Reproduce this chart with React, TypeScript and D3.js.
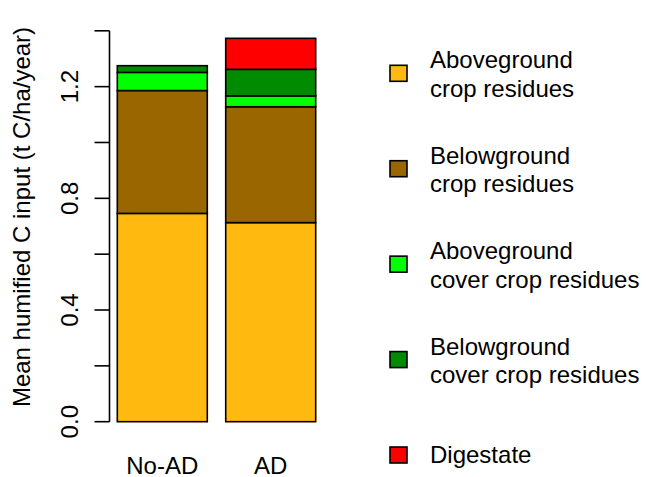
import React from "react";
import * as d3 from "d3";

const categories = ["No-AD", "AD"];
const seriesNames = [
  "Aboveground\ncrop residues",
  "Belowground\ncrop residues",
  "Aboveground\ncover crop residues",
  "Belowground\ncover crop residues",
  "Digestate",
];
const seriesKeys = ["aboveCrop", "belowCrop", "aboveCover", "belowCover", "digestate"];
const aboveCrop = [0.746, 0.713];
const belowCrop = [0.44, 0.415];
const aboveCover = [0.065, 0.039];
const belowCover = [0.024, 0.095];
const digestate = [0, 0.111];
const colors = ["#FFB90F", "#996600", "#00FF00", "#008B00", "#FF0000"];
const yTicks = [0, 0.2, 0.4, 0.6, 0.8, 1.0, 1.2, 1.4];
const yLabels = [0, 0.4, 0.8, 1.2];
const yTitle = "Mean humified C input (t C/ha/year)";

const W = 646;
const H = 477;
const FONT = "Liberation Sans, Arial, sans-serif";

export default function App() {
  const valuesBySeries = [aboveCrop, belowCrop, aboveCover, belowCover, digestate];
  const rows = categories.map((c, i) => {
    const r: any = { cat: c };
    seriesKeys.forEach((k, j) => (r[k] = valuesBySeries[j][i]));
    return r;
  });
  const stacked = d3.stack().keys(seriesKeys)(rows);

  const y = d3.scaleLinear().domain([0, 1.4]).range([421.7, 30.8]);
  const x = d3.scaleBand().domain(categories).range([117.3, 315.7]).paddingInner(0.17).paddingOuter(0);
  const axisX = 109.5;
  const tickLen = 15;

  const legendCenters = d3.scaleLinear().domain([0, 4]).range([73.3, 455]);

  return (
    <svg width={W} height={H} style={{ position: "absolute", left: 0, top: 0, background: "#fff" }} fontFamily={FONT}>
      <rect x={0} y={0} width={W} height={H} fill="#fff" />
      {stacked.map((s, si) =>
        s.map((d, di) => {
          const h = y(d[0]) - y(d[1]);
          if (h <= 0) return null;
          return (
            <rect
              key={`${si}-${di}`}
              x={x(categories[di])}
              y={y(d[1])}
              width={x.bandwidth()}
              height={h}
              fill={colors[si]}
              stroke="#000"
              strokeWidth={1.6}
            />
          );
        })
      )}
      <line x1={axisX} x2={axisX} y1={y(0)} y2={y(1.4)} stroke="#000" strokeWidth={1.6} />
      {yTicks.map((t) => (
        <line key={t} x1={axisX - tickLen} x2={axisX} y1={y(t)} y2={y(t)} stroke="#000" strokeWidth={1.6} />
      ))}
      {yLabels.map((t) => (
        <text
          key={t}
          transform={`translate(78,${y(t)}) rotate(-90)`}
          textAnchor="middle"
          fontSize={24}
          fill="#000"
        >
          {t.toFixed(1)}
        </text>
      ))}
      <text transform={`translate(30,217) rotate(-90)`} textAnchor="middle" fontSize={24} fill="#000">
        {yTitle}
      </text>
      {categories.map((c) => (
        <text key={c} x={(x(c) as number) + x.bandwidth() / 2} y={474} textAnchor="middle" fontSize={24} fill="#000">
          {c}
        </text>
      ))}
      {seriesNames.map((name, i) => {
        const cy = legendCenters(i);
        const lines = name.split("\n");
        return (
          <g key={name}>
            <rect x={390} y={cy - 8} width={17} height={16} fill={colors[i]} stroke="#000" strokeWidth={1.6} />
            {lines.length === 1 ? (
              <text x={430} y={cy + 7.7} fontSize={24} fill="#000">
                {lines[0]}
              </text>
            ) : (
              lines.map((l, li) => (
                <text key={li} x={430} y={cy - 5 + li * 28.4} fontSize={24} fill="#000">
                  {l}
                </text>
              ))
            )}
          </g>
        );
      })}
    </svg>
  );
}
